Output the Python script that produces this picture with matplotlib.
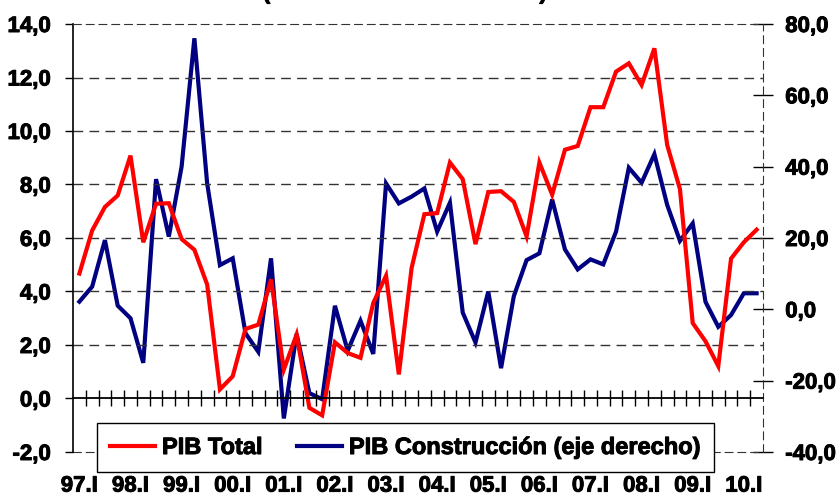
"""PIB Total vs PIB Construcción, quarterly growth 97.I-10.II. Writes out.png."""
import numpy as np
import matplotlib
matplotlib.use("Agg")
import matplotlib.pyplot as plt
import matplotlib.patheffects as pe

YEAR_LABELS = ["97.I", "98.I", "99.I", "00.I", "01.I", "02.I", "03.I",
               "04.I", "05.I", "06.I", "07.I", "08.I", "09.I", "10.I"]

# PIB Total (left axis)
PIB_TOTAL = [4.67, 6.28, 7.16, 7.59, 9.08, 5.84, 7.28, 7.30, 5.96, 5.56,
             4.26, 0.34, 0.83, 2.60, 2.76, 4.45, 1.08, 2.39, -0.35, -0.63,
             2.10, 1.70, 1.52, 3.57, 4.59, 0.90, 4.88, 6.89, 6.93, 8.82,
             8.20, 5.77, 7.72, 7.75, 7.35, 6.06, 8.82, 7.62, 9.30, 9.44,
             10.89, 10.89, 12.22, 12.53, 11.72, 13.09, 9.48, 7.83, 2.82, 2.14,
             1.21, 5.23, 5.84, 6.31]

# PIB Construcción (right axis)
PIB_CONSTR = [2.15, 6.36, 19.4, 1.03, -2.5, -15.0, 36.5, 20.4, 40.0, 76.0,
              35.3, 12.4, 14.3, -6.7, -11.9, 14.3, -30.6, -6.9, -23.5, -25.2,
              1.0, -11.6, -3.2, -12.5, 35.3, 29.7, 31.6, 33.9, 21.8, 29.9,
              -0.9, -9.3, 5.0, -16.5, 3.7, 13.8, 15.7, 30.8, 16.8, 11.2,
              14.0, 12.6, 21.8, 39.7, 35.5, 43.5, 29.3, 19.2, 24.1, 2.1,
              -4.9, -1.6, 4.5, 4.5]

RED = "#ff0000"
NAVY = "#000080"
DASH = (0, (7, 4.5))
FS = 16
HEAVY = [pe.withStroke(linewidth=0.7, foreground="black")]  # Excel-like heavier bold


def fmt(v):
    return f"{v:.1f}".replace(".", ",")


def main():
    plt.rcParams["font.family"] = ["Liberation Sans", "DejaVu Sans"]
    plt.rcParams["font.weight"] = "bold"

    n = len(PIB_TOTAL)
    x = np.arange(n)

    fig = plt.figure(figsize=(8.38, 4.98), dpi=100)
    ax = fig.add_axes([0.0871, 0.0924, 0.8234, 0.8594])
    ax2 = ax.twinx()

    # left axis: PIB Total
    ax.plot(x, PIB_TOTAL, color=RED, lw=3, solid_joinstyle="miter", label="PIB Total")
    ax.set_xlim(-0.5, n - 0.5)
    ax.set_ylim(-2, 14)
    yt = np.arange(-2, 15, 2)
    ax.set_yticks(yt)
    ax.set_yticklabels([fmt(v) for v in yt], fontweight="bold")
    ax.tick_params(axis="y", length=6, width=1, pad=10, labelsize=FS)
    for v in yt[2:-1]:
        ax.axhline(v, color="#333333", lw=1, ls=DASH, zorder=0)

    # category axis crosses at zero, ticks between categories
    ax.spines["bottom"].set_position(("data", 0))
    ax.spines["bottom"].set_linewidth(1.3)
    ax.set_xticks([])
    ax.set_xticks(np.arange(0.5, n - 1, 1), minor=True)
    ax.tick_params(axis="x", which="minor", direction="inout", length=12, width=1)
    ax.spines["left"].set_linewidth(1.2)
    ax.spines["right"].set_visible(False)
    ax.spines["top"].set_linestyle(DASH)
    ax.spines["top"].set_color("#333333")

    # year labels low, below plot area
    sec = ax.secondary_xaxis("bottom")
    sec.set_xticks(x[::4])
    sec.set_xticklabels(YEAR_LABELS, fontweight="bold")
    sec.tick_params(length=0, pad=17, labelsize=FS)
    sec.spines["bottom"].set_linestyle(DASH)
    sec.spines["bottom"].set_color("#333333")

    # right axis: PIB Construcción
    ax2.plot(x, PIB_CONSTR, color=NAVY, lw=3, solid_joinstyle="miter",
             label="PIB Construcción (eje derecho)")
    ax2.set_ylim(-40, 80)
    yt2 = np.arange(-40, 81, 20)
    ax2.set_yticks(yt2)
    ax2.set_yticklabels([fmt(v) for v in yt2], fontweight="bold")
    ax2.tick_params(axis="y", direction="inout", length=14, width=1, pad=9, labelsize=FS)
    for s in ("left", "top", "bottom"):
        ax2.spines[s].set_visible(False)
    ax2.spines["right"].set_linestyle(DASH)
    ax2.spines["right"].set_color("#333333")

    # red drawn above navy
    ax.set_zorder(ax2.get_zorder() + 1)
    ax.patch.set_visible(False)

    handles = ax.get_lines()[:1] + ax2.get_lines()[:1]
    leg = fig.legend(handles, [h.get_label() for h in handles],
                     loc="lower left", bbox_to_anchor=(0.1158, 0.0522),
                     ncol=2, prop={"size": 17, "weight": "bold"},
                     frameon=True, fancybox=False,
                     framealpha=1, edgecolor="black", borderpad=0.55,
                     handlelength=1.9, handletextpad=0.3, columnspacing=1.45,
                     borderaxespad=0)
    leg.get_frame().set_linewidth(1)

    # title line, mostly outside the canvas
    title = fig.text(0.4827, 1.002, "(Variación interanual en %)", ha="center",
                     va="baseline", fontsize=FS, weight="bold")

    labels = (ax.get_yticklabels() + ax2.get_yticklabels()
              + sec.get_xticklabels() + leg.get_texts() + [title])
    for t in labels:
        t.set_path_effects(HEAVY)

    fig.savefig("out.png", dpi=100)
    plt.close(fig)


if __name__ == "__main__":
    main()
